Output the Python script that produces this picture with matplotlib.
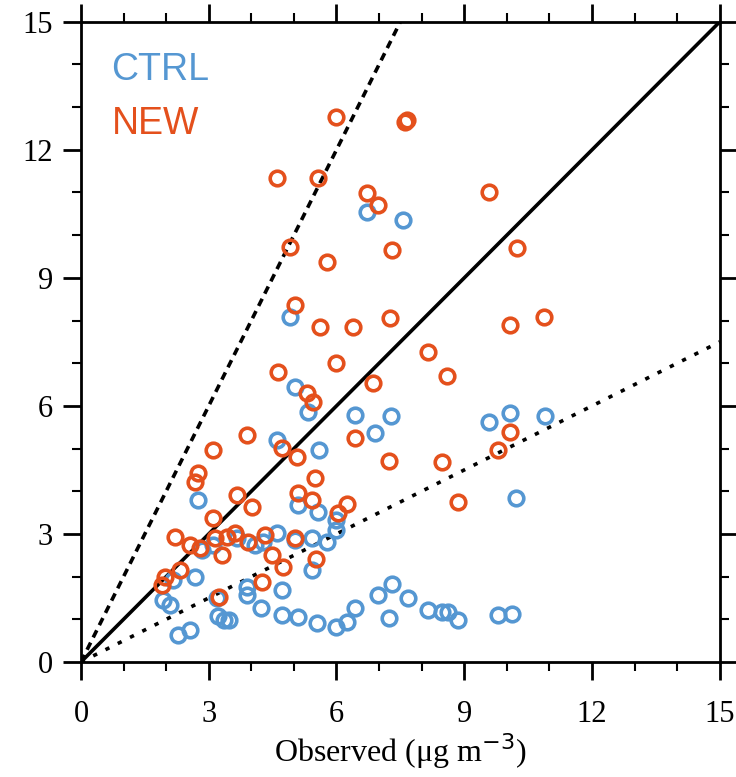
import matplotlib
matplotlib.use("Agg")
import matplotlib.pyplot as plt
import numpy as np

ctrl_x = [1.92, 2.09, 2.28, 2.56, 2.68, 2.16, 3.22, 3.36, 3.47, 3.19, 3.9, 3.9, 4.22, 4.72,
          5.09, 5.54, 6.0, 6.24, 6.43, 6.97, 7.3, 7.68, 7.23, 8.15, 8.47, 8.62, 8.85, 9.79,
          10.12, 4.72, 5.42, 5.77, 6.0, 6.0, 5.42, 5.02, 5.09, 5.56, 5.6, 6.43, 7.28, 6.9,
          5.33, 5.02, 9.58, 10.07, 10.89, 10.21, 2.75, 4.6, 3.1, 2.84, 3.66, 4.27, 4.08,
          4.6, 6.71, 7.56, 4.9]
ctrl_y = [1.45, 1.34, 0.63, 0.75, 1.99, 1.92, 1.08, 0.98, 0.98, 1.50, 1.76, 1.57, 1.27, 1.10,
          1.05, 0.91, 0.82, 0.94, 1.27, 1.57, 1.83, 1.50, 1.03, 1.22, 1.17, 1.17, 0.98, 1.10,
          1.12, 1.69, 2.16, 2.81, 3.09, 3.33, 2.90, 2.85, 3.68, 3.52, 4.97, 5.79, 5.77, 5.37,
          5.86, 6.45, 5.62, 5.83, 5.77, 3.84, 3.80, 5.20, 2.74, 2.62, 2.90, 2.81, 2.74,
          3.02, 10.55, 10.36, 8.09]

new_x = [6.0, 7.6, 7.65, 4.6, 5.56, 6.71, 6.97, 4.9, 5.77, 7.3, 5.02, 5.61, 6.38, 7.25,
         4.62, 5.3, 5.45, 8.15, 8.59, 6.85, 9.58, 10.23, 10.07, 10.87, 10.07, 9.79, 8.47,
         8.85, 6.0, 6.43, 5.07, 7.23, 5.49, 5.09, 5.42, 6.24, 6.03, 5.02, 5.52, 4.74, 4.48,
         4.32, 3.92, 3.62, 4.25, 3.24, 3.9, 3.1, 4.72, 2.75, 2.68, 3.66, 4.01, 3.1, 2.2,
         2.56, 2.79, 3.15, 3.43, 3.31, 1.97, 2.32, 1.9]
new_y = [12.77, 12.66, 12.70, 11.34, 11.34, 10.99, 10.71, 9.73, 9.37, 9.66, 8.37, 7.85, 7.85,
         8.06, 6.80, 6.30, 6.09, 7.27, 6.70, 6.54, 11.01, 9.70, 7.90, 8.09, 5.39, 4.97, 4.69,
         3.75, 7.0, 5.25, 4.80, 4.71, 4.31, 3.96, 3.80, 3.70, 3.50, 2.90, 2.42, 2.23, 2.51,
         2.98, 2.81, 3.02, 1.87, 1.52, 5.32, 4.97, 5.01, 4.43, 4.22, 3.91, 3.63, 3.37, 2.93,
         2.74, 2.67, 2.90, 2.93, 2.51, 1.99, 2.16, 1.80]

ticks = [0, 3, 6, 9, 12, 15]
ctrl_color = "#5597d2"
new_color = "#e4501c"

fig = plt.figure(figsize=(7.36, 7.77), dpi=100)
ax = fig.add_axes([0.110, 0.148, 0.868, 0.824])
ax.set_xlim(0, 15)
ax.set_ylim(0, 15)

ax.plot([0, 15], [0, 15], color="black", lw=2.6, solid_capstyle="butt")
ax.plot([0, 7.5], [0, 15], color="black", lw=2.6, ls=(0, (2.2, 1.6)))
ax.plot([0, 15], [0, 7.5], color="black", lw=2.6, ls=(0, (1.2, 2.6)))

ax.plot(ctrl_x, ctrl_y, ls="none", marker="o", ms=10.5, mfc="none", mec=ctrl_color, mew=2.6)
ax.plot(new_x, new_y, ls="none", marker="o", ms=10.5, mfc="none", mec=new_color, mew=2.6)

ax.set_xticks(ticks)
ax.set_yticks(ticks)
ax.set_xticks(np.arange(0, 16, 1), minor=True)
ax.set_yticks(np.arange(0, 16, 1), minor=True)
for lab in ax.get_xticklabels() + ax.get_yticklabels():
    lab.set_fontfamily("Liberation Serif")
    lab.set_fontsize(22)
ax.tick_params(which="major", direction="out", length=13, width=2,
               top=True, right=True, pad=14)
ax.tick_params(which="minor", direction="out", length=6.5, width=1.5,
               top=True, right=True)
ax.tick_params(axis="y", which="major", pad=7)
for sp in ax.spines.values():
    sp.set_linewidth(2)

ax.set_xlabel("Observed (\u03bcg m$^{-3}$)", fontfamily="Liberation Serif", fontsize=23, labelpad=2)

ax.text(0.048, 0.925, "CTRL", transform=ax.transAxes, color=ctrl_color,
        fontfamily="Liberation Sans", fontsize=27, va="center", ha="left")
ax.text(0.048, 0.84, "NEW", transform=ax.transAxes, color=new_color,
        fontfamily="Liberation Sans", fontsize=27, va="center", ha="left")

fig.savefig("out.png", dpi=100)
